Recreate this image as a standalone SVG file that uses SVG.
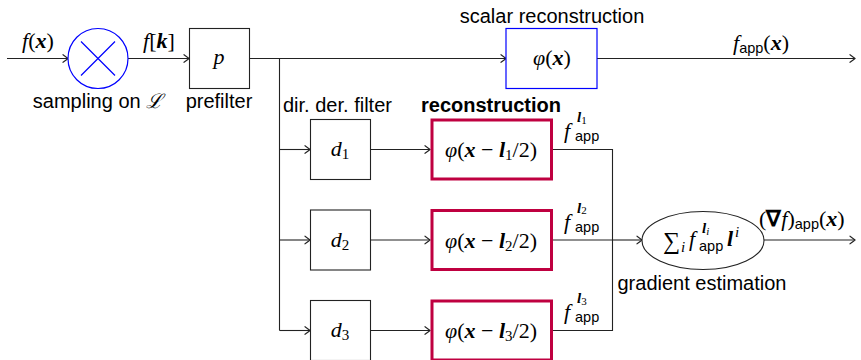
<svg xmlns="http://www.w3.org/2000/svg" width="861" height="360" viewBox="0 0 861 360">
<style>
.lbl{font-family:"Liberation Sans",Arial,sans-serif;font-size:20px;fill:#000}
.bold{font-weight:bold}
.m{font-family:"Liberation Serif","Times New Roman",serif;font-size:22px;fill:#000}
.i{font-style:italic}
.b{font-style:italic;font-weight:bold}
.sf{font-family:"Liberation Sans",Arial,sans-serif;font-size:14.5px;font-style:normal;font-weight:normal}
.sub{font-size:15px}
.sup{font-size:15px;font-style:italic;font-weight:bold}
.tiny{font-size:11px;font-weight:normal}
.box{fill:#fff;stroke:#222;stroke-width:1.1}
.blue{fill:#fff;stroke:#0000ff;stroke-width:1.2}
.rec{fill:#fff;stroke:#bf0040;stroke-width:3}
.ln{fill:none;stroke:#222;stroke-width:1.1}
.arr{fill:none;stroke:#222;stroke-width:1.1;marker-end:url(#to)}
</style>
<defs>
<marker id="to" markerUnits="userSpaceOnUse" markerWidth="10" markerHeight="10" refX="0" refY="0" viewBox="-6 -5 7 10" orient="auto" overflow="visible">
<path d="M-5,-3.8 Q-1.2,-1 0,0 Q-1.2,1 -5,3.8" fill="none" stroke="#222" stroke-width="1.1" stroke-linecap="round"/>
</marker>
</defs>
<rect width="861" height="360" fill="#fff"/>
<g id="connectors">
<path class="arr" d="M7,58.5 H68"/>
<path class="arr" d="M128,58.5 H189"/>
<path class="arr" d="M249.5,58.5 H506"/>
<path class="arr" d="M597,58.5 H855"/>
<path class="ln" d="M279.5,58.5 V330.5"/>
<path class="arr" d="M279.5,149.5 H310"/>
<path class="arr" d="M279.5,240 H310"/>
<path class="arr" d="M279.5,330.5 H310"/>
<path class="arr" d="M370.5,149.5 H430"/>
<path class="arr" d="M370.5,240 H430"/>
<path class="arr" d="M370.5,330.5 H430"/>
<path class="ln" d="M553,149.5 H612.5 V330.5 H553"/>
<path class="ln" d="M553,240 H612.5"/>
<path class="arr" d="M612.5,240 H642"/>
<path class="arr" d="M764,240 H855"/>
</g>
<g id="sampler">
<circle cx="98" cy="58.5" r="30" fill="#fff" stroke="#0000ff" stroke-width="1.2"/>
<path d="M81,41.5 L115,75.5 M115,41.5 L81,75.5" stroke="#0000ff" stroke-width="1.2"/>
<text class="lbl" x="98" y="108" text-anchor="middle">sampling on <tspan font-family="'DejaVu Serif',serif" font-style="italic">ℒ</tspan></text>
</g>
<g id="prefilter">
<rect class="box" x="189.5" y="28.5" width="60" height="60"/>
<text class="m i" x="219" y="64" text-anchor="middle">p</text>
<text class="lbl" x="219" y="108" text-anchor="middle">prefilter</text>
</g>
<g id="scalar">
<rect class="blue" x="506" y="28.5" width="91" height="60"/>
<text class="m" x="552" y="65" text-anchor="middle"><tspan class="i">φ</tspan>(<tspan class="b">x</tspan>)</text>
<text class="lbl" x="552" y="22.5" text-anchor="middle">scalar reconstruction</text>
</g>
<g id="d1">
<rect class="box" x="310.5" y="119.5" width="60" height="60"/>
<text class="m" x="340" y="156" text-anchor="middle"><tspan class="i">d</tspan><tspan class="sub" dy="3">1</tspan></text>
</g>
<g id="d2">
<rect class="box" x="310.5" y="210" width="60" height="60"/>
<text class="m" x="340" y="246.5" text-anchor="middle"><tspan class="i">d</tspan><tspan class="sub" dy="3">2</tspan></text>
</g>
<g id="d3">
<rect class="box" x="310.5" y="300.5" width="60" height="60"/>
<text class="m" x="340" y="337" text-anchor="middle"><tspan class="i">d</tspan><tspan class="sub" dy="3">3</tspan></text>
</g>
<g id="r1">
<rect class="rec" x="432" y="120" width="119.5" height="59"/>
<text class="m" x="491" y="157" text-anchor="middle"><tspan class="i">φ</tspan>(<tspan class="b">x</tspan> − <tspan class="b">l</tspan><tspan class="sub" dy="3">1</tspan><tspan dy="-3">/2)</tspan></text>
</g>
<g id="r2">
<rect class="rec" x="432" y="210.5" width="119.5" height="59"/>
<text class="m" x="491" y="247.5" text-anchor="middle"><tspan class="i">φ</tspan>(<tspan class="b">x</tspan> − <tspan class="b">l</tspan><tspan class="sub" dy="3">2</tspan><tspan dy="-3">/2)</tspan></text>
</g>
<g id="r3">
<rect class="rec" x="432" y="301" width="119.5" height="59"/>
<text class="m" x="491" y="338" text-anchor="middle"><tspan class="i">φ</tspan>(<tspan class="b">x</tspan> − <tspan class="b">l</tspan><tspan class="sub" dy="3">3</tspan><tspan dy="-3">/2)</tspan></text>
</g>
<g id="labels">
<text class="m" x="38" y="48" text-anchor="middle"><tspan class="i">f</tspan>(<tspan class="b">x</tspan>)</text>
<text class="m" x="159" y="48" text-anchor="middle"><tspan class="i">f</tspan>[<tspan class="b">k</tspan>]</text>
<text class="m" x="733" y="50"><tspan class="i">f</tspan><tspan class="sf" dy="3">app</tspan><tspan dy="-3">(</tspan><tspan class="b">x</tspan>)</text>
<text class="lbl" x="283" y="112">dir. der. filter</text>
<text class="lbl bold" x="491" y="112" text-anchor="middle">reconstruction</text>
<text class="m"><tspan class="i" x="564" y="138">f</tspan><tspan class="sup" x="577" y="122">l</tspan><tspan class="tiny" dy="1.5">1</tspan><tspan class="sf" x="575" y="141">app</tspan></text>
<text class="m"><tspan class="i" x="564" y="228.5">f</tspan><tspan class="sup" x="577" y="212.5">l</tspan><tspan class="tiny" dy="1.5">2</tspan><tspan class="sf" x="575" y="231.5">app</tspan></text>
<text class="m"><tspan class="i" x="564" y="319">f</tspan><tspan class="sup" x="577" y="303">l</tspan><tspan class="tiny" dy="1.5">3</tspan><tspan class="sf" x="575" y="322">app</tspan></text>
</g>
<g id="gradient">
<ellipse cx="703" cy="240.5" rx="61" ry="29" fill="#fff" stroke="#222" stroke-width="1.1"/>
<text class="m"><tspan x="663" y="249" style="font-size:24px">∑</tspan><tspan class="i" style="font-size:15px" x="681" y="252">i</tspan><tspan class="i" x="689" y="246">f</tspan><tspan class="sup" x="702" y="233">l</tspan><tspan class="tiny i" dy="1.5">i</tspan><tspan class="sf" x="699" y="251">app</tspan><tspan class="b" x="727" y="246">l</tspan><tspan class="i" style="font-size:15px" x="735" y="237">i</tspan></text>
<text class="lbl" x="702" y="290" text-anchor="middle">gradient estimation</text>
<text class="m" x="759" y="226">(<tspan font-weight="bold">∇</tspan><tspan class="i">f</tspan>)<tspan class="sf" dy="3">app</tspan><tspan dy="-3">(</tspan><tspan class="b">x</tspan>)</text>
</g>
</svg>
